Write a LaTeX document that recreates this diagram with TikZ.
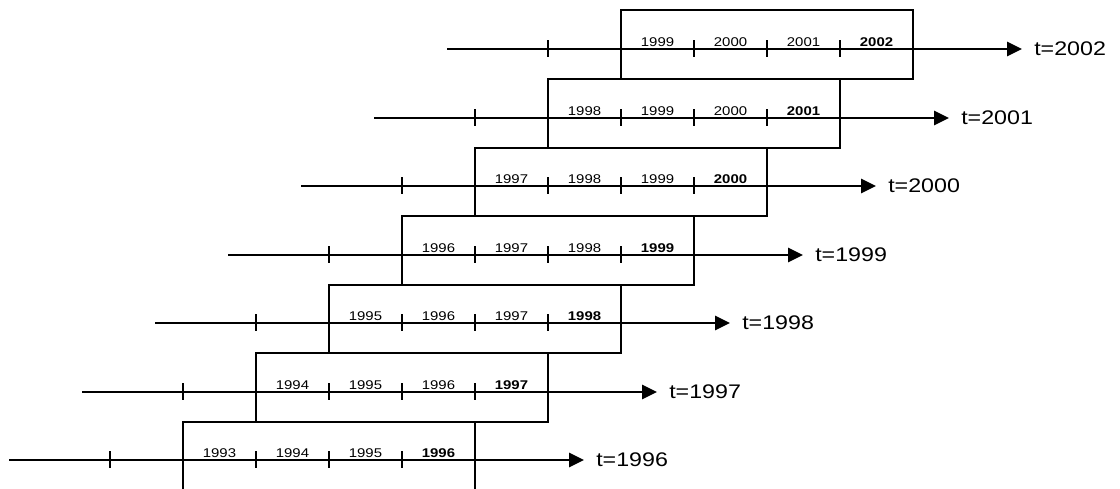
\documentclass[tikz,border=0pt]{standalone}
\usepackage{fontspec}
\setmainfont{Liberation Sans}
\usepackage{graphicx}
\usetikzlibrary{arrows.meta}

\tikzset{
  yearlbl/.style={font=\fontsize{9}{10}\selectfont, anchor=base, inner sep=0pt},
  nowlbl/.style={font=\fontsize{9}{10}\selectfont\bfseries, anchor=base, inner sep=0pt},
  tlbl/.style={font=\fontsize{14}{16}\selectfont, anchor=west, inner sep=0pt},
  timeline/.style={line width=1.4pt, -{Triangle[length=0.375cm, width=0.36cm]}},
  window/.style={draw, line width=1.4pt},
  yrtick/.style={line width=1.2pt}
}
% labels in the picture are a little wider than the font
\newcommand{\wide}[1]{\scalebox{1.18}[1]{#1}}

\begin{document}
\begin{tikzpicture}[x=0.025cm, y=-0.025cm]
  \useasboundingbox (0,0) rectangle (1120,488);
  \clip (0,0) rectangle (1120,488);

  % One row per year t, each shifted one year to the right
  \foreach \i in {0,...,6} {
    \pgfmathsetmacro{\ly}{round(460-68.5*\i)}
    \pgfmathsetmacro{\top}{round(460-68.5*(\i+1))+30}
    \pgfmathsetmacro{\bx}{183+73*\i}
    \pgfmathtruncatemacro{\yr}{1996+\i}

    % Window of four years
    \draw[window] (\bx,\top) rectangle (\bx+292,\ly+30);

    % Time axis
    \coordinate (s\i) at (\bx-174,\ly);
    \coordinate (e\i) at (\bx+401,\ly);
    \draw[timeline] (s\i) -- (e\i);
    \node[tlbl] (t\i) at (\bx+413,\ly) {\wide{t=\yr}};

    % Ticks between the years
    \foreach \dx in {-73,73,146,219}
      \draw[yrtick] (\bx+\dx,\ly-9) -- (\bx+\dx,\ly+8);

    % Year labels, the last one in bold
    \foreach \k in {0,1,2} {
      \pgfmathtruncatemacro{\y}{\yr-3+\k}
      \node[yearlbl] (y\i-\k) at (\bx+36.5+73*\k,\ly-2.5) {\wide{\y}};
    }
    \node[nowlbl] (y\i-3) at (\bx+255.5,\ly-2.5) {\wide{\yr}};
  }
\end{tikzpicture}
\end{document}
